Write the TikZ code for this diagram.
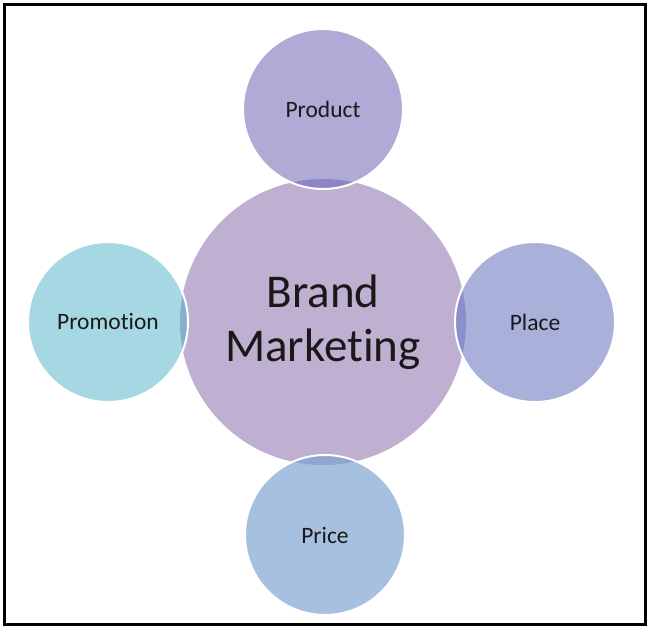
\documentclass[tikz,border=0pt]{standalone}
\usepackage{fontspec}
\setmainfont{Carlito}[Ligatures=NoCommon]
\definecolor{hubfill}{RGB}{191,175,209}
\definecolor{productfill}{RGB}{176,170,214}
\definecolor{placefill}{RGB}{169,176,217}
\definecolor{pricefill}{RGB}{166,192,223}
\definecolor{promotionfill}{RGB}{166,216,228}
\definecolor{productlens}{RGB}{142,134,196}
\definecolor{placelens}{RGB}{139,143,203}
\definecolor{pricelens}{RGB}{143,166,210}
\definecolor{promotionlens}{RGB}{134,175,207}

\begin{document}
\begin{tikzpicture}[x=1pt, y=1pt,
  petal/.style={circle, minimum size=160pt, inner sep=0pt, text=black!90,
    font=\fontsize{23.5}{28}\selectfont},
  rim/.style={white, line width=2pt}]
\useasboundingbox (-323,322) rectangle (327,-307);
\draw[line width=3pt] (-318.5,317.5) rectangle (322.5,-302.5);
\node[circle, fill=hubfill, minimum size=286pt, inner sep=0pt, align=center,
  text=black!90, font=\fontsize{47}{54}\selectfont] (brand) at (0,0) {Brand\\Marketing};
\node[petal, fill=productfill] (product) at (0,213) {Product};
\node[petal, fill=placefill] (place) at (212,0) {Place};
\node[petal, fill=pricefill] (price) at (2,-213) {Price};
\node[petal, fill=promotionfill] (promotion) at (-215,0) {Promotion};
\begin{scope}
  \clip (product.center) circle[radius=80];
  \fill[productlens] (brand.center) circle[radius=143];
\end{scope}
\begin{scope}
  \clip (place.center) circle[radius=80];
  \fill[placelens] (brand.center) circle[radius=143];
\end{scope}
\begin{scope}
  \clip (price.center) circle[radius=80];
  \fill[pricelens] (brand.center) circle[radius=143];
\end{scope}
\begin{scope}
  \clip (promotion.center) circle[radius=80];
  \fill[promotionlens] (brand.center) circle[radius=143];
\end{scope}
\draw[rim] (product.center) circle[radius=80];
\draw[rim] (place.center) circle[radius=80];
\draw[rim] (price.center) circle[radius=80];
\draw[rim] (promotion.center) circle[radius=80];
\end{tikzpicture}
\end{document}
